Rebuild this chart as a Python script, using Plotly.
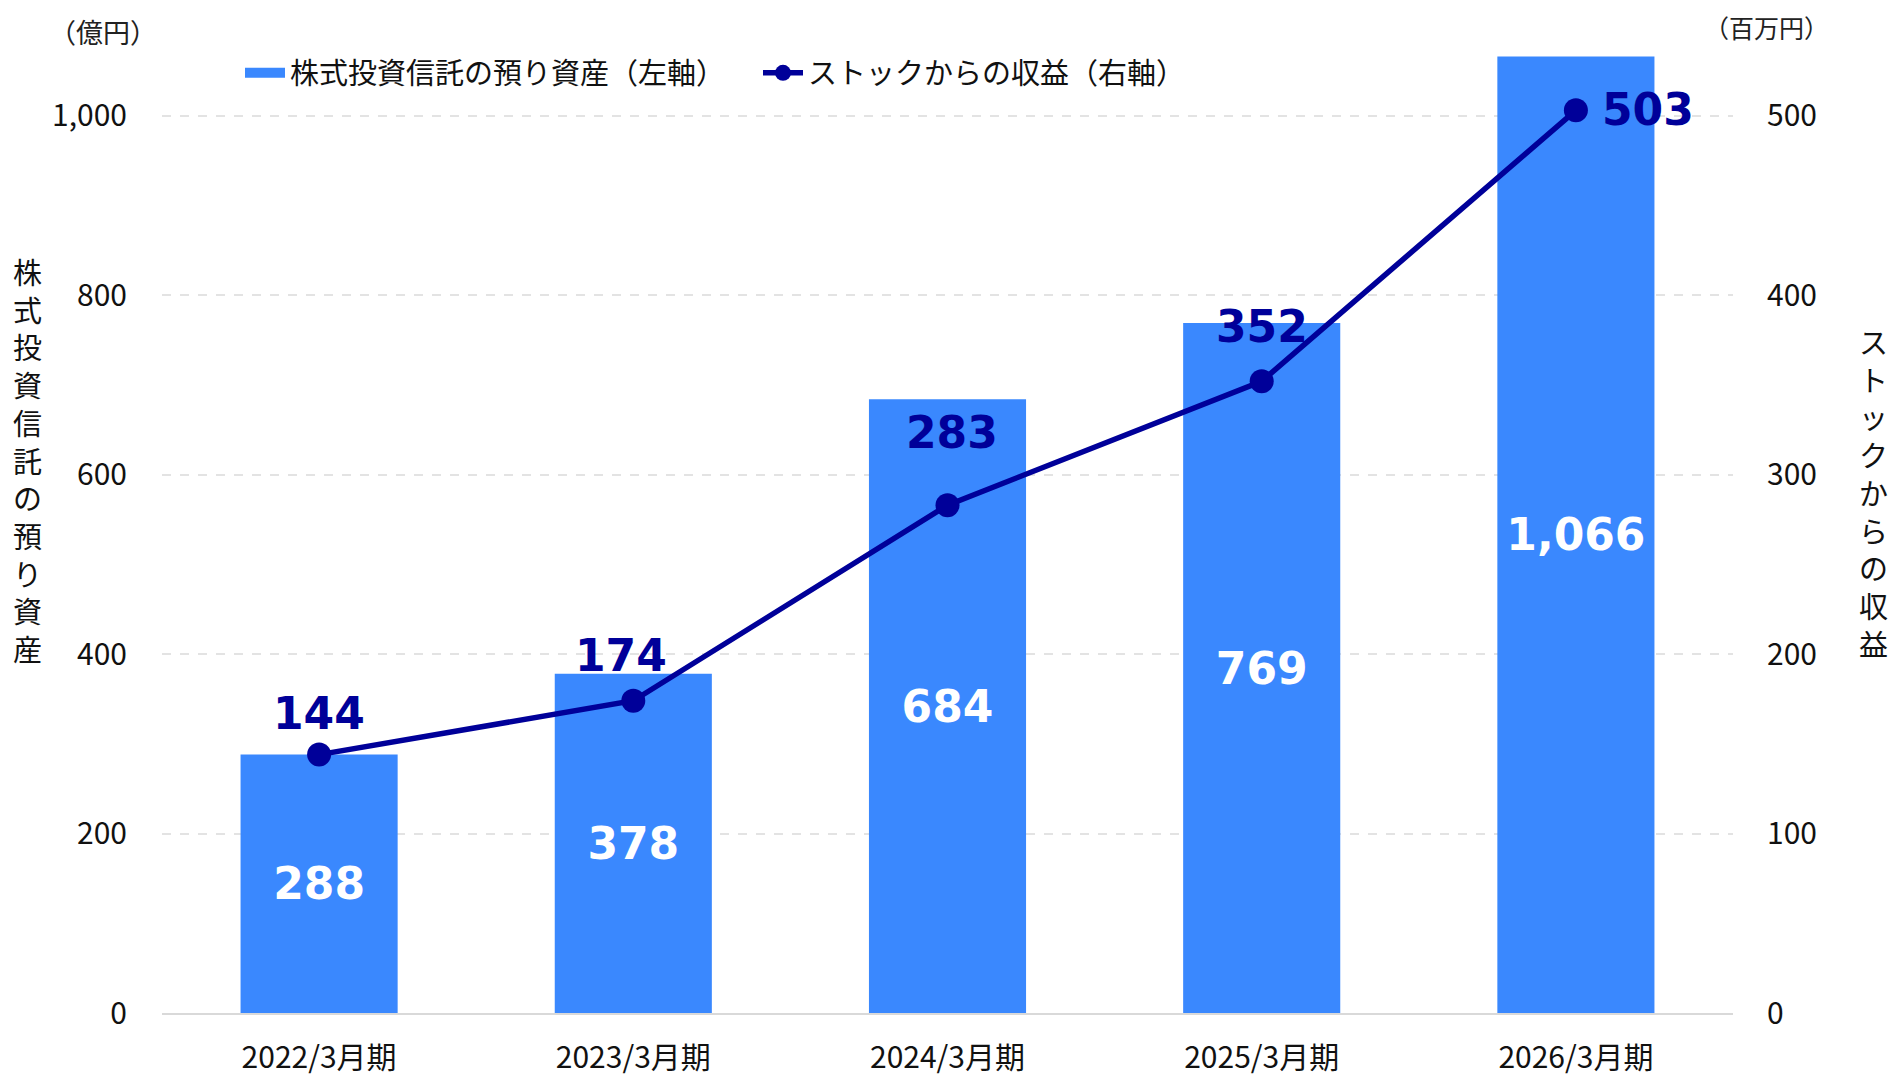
import plotly.graph_objects as go

categories = ["2022/3月期", "2023/3月期", "2024/3月期", "2025/3月期", "2026/3月期"]
assets = [288, 378, 684, 769, 1066]          # 億円 (left axis)
stock_revenue = [144, 174, 283, 352, 503]   # 百万円 (right axis)
asset_labels = ["288", "378", "684", "769", "1,066"]
revenue_labels = ["144", "174", "283", "352", "503"]

# label offsets (style only)
rev_xshift = [0, -12, 4, 0, 72]
rev_yshift = [41, 45, 73, 55, 1]

BAR = "#3A88FE"
LINE = "#000099"
JP = "Noto Sans CJK JP"

# page body has an 8px margin; figure fits inside the viewport
OFF = 8
W, H = 1897 - OFF, 1079 - OFF
# desired plot area in absolute viewport pixels
PX0, PX1, PY0, PY1 = 162, 1733, 26, 1013
ML, MR, MT, MB = PX0 - OFF, (W + OFF) - PX1, PY0 - OFF, (H + OFF) - PY1
PW, PH = PX1 - PX0, PY1 - PY0

def px(x):
    return (x - PX0) / PW

def py(y):
    return (PY1 - y) / PH

fig = go.Figure()
fig.add_trace(go.Bar(
    x=categories, y=assets, name="株式投資信託の預り資産（左軸）",
    marker=dict(color=BAR, line=dict(width=0)),
    text=asset_labels, textposition="inside", insidetextanchor="middle",
    textangle=0,
    textfont=dict(family="DejaVu Sans", size=44, color="white", weight="bold"),
    yaxis="y", showlegend=False,
))
# legend proxy for the bar series (wide rectangular swatch)
fig.add_trace(go.Scatter(
    x=[None], y=[None], name="株式投資信託の預り資産（左軸）",
    mode="lines", line=dict(color=BAR, width=21), showlegend=True,
))
fig.add_trace(go.Scatter(
    x=categories, y=stock_revenue, name="ストックからの収益（右軸）",
    mode="lines+markers",
    line=dict(color=LINE, width=5.5),
    marker=dict(color=LINE, size=24),
    yaxis="y2",
))

for c, v, t, xs, ys in zip(categories, stock_revenue, revenue_labels, rev_xshift, rev_yshift):
    fig.add_annotation(x=c, y=v, xref="x", yref="y2", text=t, showarrow=False,
                       xshift=xs, yshift=ys, xanchor="center", yanchor="middle",
                       font=dict(family="DejaVu Sans", size=44, color=LINE, weight="bold"))

# axis titles (vertical stacked text)
left_title = "株式投資信託の預り資産"
right_title = "ストックからの収益"
fig.add_annotation(x=px(27), y=py(460), xref="paper", yref="paper",
                   xanchor="center", yanchor="middle",
                   text="<br>".join(list(left_title)), showarrow=False,
                   font=dict(family=JP, size=29, color="#111111"), align="center")
fig.add_annotation(x=px(1873), y=py(492), xref="paper", yref="paper",
                   xanchor="center", yanchor="middle",
                   text="<br>".join(list(right_title)), showarrow=False,
                   font=dict(family=JP, size=29, color="#111111"), align="center")
fig.add_annotation(x=px(103), y=py(32), xref="paper", yref="paper",
                   xanchor="center", yanchor="middle",
                   text="（億円）", showarrow=False,
                   font=dict(family=JP, size=27, color="#222222"))
fig.add_annotation(x=px(1766), y=py(27), xref="paper", yref="paper",
                   xanchor="center", yanchor="middle",
                   text="（百万円）", showarrow=False,
                   font=dict(family=JP, size=25, color="#222222"))

fig.update_layout(
    width=W, height=H,
    margin=dict(l=ML, r=MR, t=MT, b=MB, autoexpand=False),
    paper_bgcolor="white", plot_bgcolor="white",
    bargap=0.5,
    showlegend=True,
    legend=dict(orientation="h", x=px(240), y=py(73), xanchor="left", yanchor="middle",
                font=dict(family=JP, size=29, color="#111111"),
                bgcolor="rgba(0,0,0,0)", itemwidth=40, tracegroupgap=0,
                entrywidth=463, entrywidthmode="pixels"),
    xaxis=dict(showgrid=False, showline=True, linecolor="#D9D9D9", linewidth=2,
               tickfont=dict(family=JP, size=30, color="#111111"), automargin=False,
               ticks="", ticklabelstandoff=17, range=[-0.5, 4.5]),
    yaxis=dict(range=[0, 1100], tickvals=[0, 200, 400, 600, 800, 1000],
               tickformat=",", showgrid=True, gridcolor="#E3E3E3", griddash="dash",
               gridwidth=1.5, zeroline=False, showline=False, layer="above traces",
               tickfont=dict(family=JP, size=30, color="#111111"), automargin=False,
               ticklabelstandoff=34),
    yaxis2=dict(range=[0, 550], tickvals=[0, 100, 200, 300, 400, 500],
                overlaying="y", side="right", showgrid=False, zeroline=False,
                showline=False, automargin=False,
                tickfont=dict(family=JP, size=30, color="#111111"),
                ticklabelstandoff=33),
)

fig.write_html("out.html")
